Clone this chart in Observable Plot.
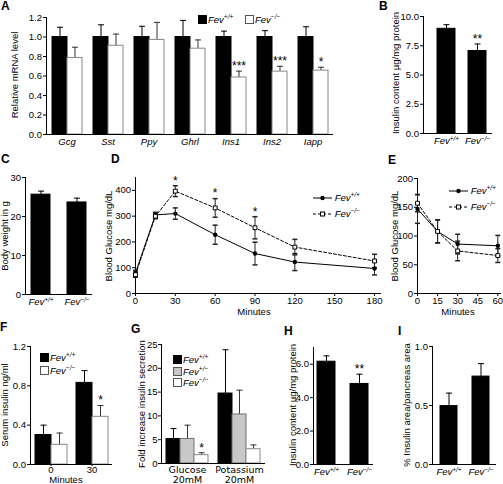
<!DOCTYPE html>
<html><head><meta charset="utf-8">
<script src="https://cdn.jsdelivr.net/npm/d3@7"></script>
<script src="https://cdn.jsdelivr.net/npm/@observablehq/plot@0.6"></script>
<style>
html,body{margin:0;padding:0;background:#fff;}
#fig{position:relative;width:503px;height:484px;overflow:hidden;font-family:"Liberation Sans",Arial,sans-serif;color:#000;}
#fig > svg{position:absolute;overflow:visible;}
.letter{position:absolute;font-weight:bold;font-size:12px;line-height:12px;}
.yt{position:absolute;font-size:9.5px;line-height:10px;white-space:nowrap;transform:translate(-50%,-50%) rotate(-90deg);}
.xt{position:absolute;font-size:9.5px;line-height:8px;white-space:nowrap;transform:translate(-50%,-50%);}
.leg{position:absolute;font-size:9.5px;line-height:10px;white-space:nowrap;font-style:italic;}
.sw{display:inline-block;width:9px;height:9px;box-sizing:border-box;border:1px solid #000;margin-right:1px;vertical-align:-1px;}
.leg sup{font-size:6.5px;line-height:0;vertical-align:4px;}
.leg svg{vertical-align:middle;overflow:visible;}
.gfont g[aria-label="fx-axis tick label"] text{font-family:"DejaVu Sans",sans-serif;font-size:9.5px;}
</style></head><body><div id="fig"></div>
<script>
// ---------------- DATA ----------------
const GENO = ["Fev+/+", "Fev-/-"];
const GENO3 = ["Fev+/+", "Fev+/-", "Fev-/-"];

// A: relative mRNA level
const genesA = ["Gcg", "Sst", "Ppy", "Ghrl", "Ins1", "Ins2", "Iapp"];
const wtA = [1, 1, 1, 1, 1, 1, 1];
const wtErrA = [0.10, 0.125, 0.11, 0.17, 0.06, 0.065, 0.105];
const koA = [0.785, 0.91, 0.97, 0.88, 0.585, 0.645, 0.655];
const koErrA = [0.11, 0.12, 0.18, 0.09, 0.065, 0.055, 0.035];
const sigA = ["", "", "", "", "***", "***", "*"];

// B: insulin content
const valB = [8.95, 7.05];
const errB = [0.35, 0.6];
const sigB = ["", "**"];

// C: body weight
const valC = [25.6, 23.6];
const errC = [0.9, 1.1];

// D: glucose tolerance
const tD = [0, 15, 30, 60, 90, 120, 180];
const wtD = [80, 305, 310, 228, 155, 122, 97];
const wtErrD = [10, 10, 22, 37, 44, 33, 25];
const koD = [73, 300, 397, 332, 255, 180, 126];
const koErrD = [10, 10, 21, 36, 43, 30, 26];
const sigD = ["", "", "*", "*", "*", "", ""];

// E: insulin tolerance
const tE = [0, 15, 30, 60];
const wtE = [147, 108, 86, 83];
const wtErrE = [25, 20, 17, 18];
const koE = [157, 108, 74, 66];
const koErrE = [15, 20, 17, 12];

// F: serum insulin
const minF = ["0", "30"];
const wtF = [0.30, 0.83];
const wtErrF = [0.10, 0.125];
const koF = [0.20, 0.485];
const koErrF = [0.12, 0.115];
const sigF = ["", "*"];

// G: fold increase insulin secretion
const stimG = ["Glucose\n20mM", "Potassium\n20mM"];
const wtG = [5.15, 14.7];
const wtErrG = [2.2, 9.2];
const hetG = [5.15, 10.3];
const hetErrG = [2.9, 5.1];
const koG = [1.75, 3.0];
const koErrG = [0.5, 0.9];
const sigG = ["*", ""];

// H: insulin content
const valH = [6.15, 4.82];
const errH = [0.35, 0.58];
const sigH = ["", "**"];

// I: insulin area
const valI = [0.495, 0.745];
const errI = [0.11, 0.11];

// ---------------- STYLE ----------------
const FILL = {"Fev+/+": "#000", "Fev+/-": "#c8c8c8", "Fev-/-": "#fff"};
const EDGE = {"Fev+/+": "#000", "Fev+/-": "#707070", "Fev-/-": "#888"};
const ERRC = {"Fev+/+": "#000", "Fev+/-": "#333", "Fev-/-": "#333"};
const SOLID = {"Fev+/+": "#000", "Fev-/-": "#000"};
const FONT = '"Liberation Sans", Arial, sans-serif';
const baseStyle = {fontFamily: FONT, fontSize: "9.5px", background: "none", overflow: "visible", color: "#000"};
const cap = {draw(ctx, size) { const w = Math.sqrt(size / Math.PI); ctx.moveTo(-w, 0); ctx.lineTo(w, 0); }};
const NS = "http://www.w3.org/2000/svg";
const fig = document.getElementById("fig");

function supify(svg) {
  svg.querySelectorAll("text").forEach(t => {
    if (t.children.length) return;
    const m = /^Fev(.+)$/.exec(t.textContent);
    if (!m) return;
    t.textContent = "Fev";
    const s = document.createElementNS(NS, "tspan");
    s.setAttribute("dy", "-3.5");
    s.setAttribute("font-size", "6.5");
    s.textContent = m[1].replace(/-/g, "\u2212");
    t.appendChild(s);
    t.setAttribute("font-style", "italic");
  });
}
function mount(svg, left, top, cls) {
  svg.style.left = left + "px";
  svg.style.top = top + "px";
  if (cls) svg.classList.add(cls);
  fig.appendChild(svg);
  supify(svg);
  return svg;
}
function barMarks(rows, fx, fill = FILL, edge = EDGE, errc = ERRC) {
  const o = fx ? {fx} : {};
  return [
    Plot.ruleX(rows, {...o, x: "geno", y1: "v", y2: d => d.v + d.e, stroke: d => errc[d.geno], strokeWidth: 1}),
    Plot.barY(rows, {...o, x: "geno", y: "v", fill: d => fill[d.geno], stroke: d => edge[d.geno], strokeWidth: 1, inset: 0}),
    Plot.dot(rows, {...o, x: "geno", y: d => d.v + d.e, symbol: cap, r: 3, stroke: d => errc[d.geno], fill: "none", strokeWidth: 1}),
    Plot.text(rows.filter(d => d.sig), {...o, x: "geno", y: d => d.v + d.e, text: "sig", dy: -5, fontSize: 12})
  ];
}
function simpleBars({vals, errs, sigs, left, top, width, height, mL, mT, mR, mB, yDomain, yTicks, yFormat, pi, po, align = 0.5}) {
  const rows = GENO.map((g, i) => ({geno: g, v: vals[i], e: errs[i], sig: sigs ? sigs[i] : ""}));
  const svg = Plot.plot({
    width, height, marginLeft: mL, marginTop: mT, marginRight: mR, marginBottom: mB,
    style: baseStyle, color: {type: "identity"},
    x: {domain: GENO, paddingInner: pi, paddingOuter: po, align, label: null, tickSize: 0, tickPadding: 4},
    y: {domain: yDomain, ticks: yTicks, tickFormat: yFormat, label: null, tickSize: 3, tickPadding: 1.5},
    marks: [Plot.frame({anchor: "left"}), ...barMarks(rows, undefined, SOLID, SOLID, SOLID), Plot.ruleY([0])]
  });
  mount(svg, left, top);
}

// ---------------- PANEL A ----------------
{
  const rows = genesA.flatMap((g, i) => [
    {gene: g, geno: GENO[0], v: wtA[i], e: wtErrA[i], sig: ""},
    {gene: g, geno: GENO[1], v: koA[i], e: koErrA[i], sig: sigA[i]}
  ]);
  const svg = Plot.plot({
    width: 340, height: 160, marginLeft: 43, marginTop: 17, marginRight: 4, marginBottom: 26,
    style: baseStyle, color: {type: "identity"},
    fx: {domain: genesA, paddingInner: 0, paddingOuter: 0, label: null, axis: "bottom", tickSize: 0, tickPadding: 4},
    x: {domain: GENO, paddingInner: 0, paddingOuter: 0.3, axis: null},
    y: {domain: [0, 1.2], ticks: [0, 0.2, 0.4, 0.6, 0.8, 1.0, 1.2], tickFormat: ".1f", label: null, tickSize: 3, tickPadding: 1.5},
    marks: [Plot.frame({anchor: "left", facetAnchor: "left"}), ...barMarks(rows, "gene"), Plot.ruleY([0])]
  });
  mount(svg, 0, 0);
  svg.querySelectorAll('g[aria-label="fx-axis tick label"] text').forEach(t => t.setAttribute("font-style", "italic"));
}

// ---------------- PANEL B ----------------
simpleBars({vals: valB, errs: errB, sigs: sigB, left: 380, top: 0, width: 123, height: 160, mL: 43, mT: 16, mR: 11, mB: 27,
  yDomain: [0, 10], yTicks: [0, 2.5, 5, 7.5, 10], yFormat: ".1f", pi: 0.41, po: 0.3, align: 0.7});

// ---------------- PANEL C ----------------
simpleBars({vals: valC, errs: errC, left: 0, top: 150, width: 100, height: 165, mL: 25, mT: 27, mR: 8, mB: 21,
  yDomain: [0, 30], yTicks: [0, 10, 20, 30], pi: 0.47, po: 0.165});

// ---------------- PANELS D, E ----------------
function linePanel({t, wt, wtErr, ko, koErr, sig, left, top, width, height, mL, mT, mR, mB, xDomain, xTicks, yDomain, yTicks}) {
  const W = t.map((x, i) => ({t: x, v: wt[i], e: wtErr[i], sig: ""}));
  const K = t.map((x, i) => ({t: x, v: ko[i], e: koErr[i], sig: sig ? sig[i] : ""}));
  const all = W.concat(K);
  const svg = Plot.plot({
    width, height, marginLeft: mL, marginTop: mT, marginRight: mR, marginBottom: mB,
    style: baseStyle,
    x: {domain: xDomain, ticks: xTicks, label: null, tickSize: 3, tickPadding: 0.5},
    y: {domain: yDomain, ticks: yTicks, label: null, tickSize: 3, tickPadding: 1.5},
    marks: [
      Plot.frame({anchor: "left"}), Plot.frame({anchor: "bottom"}),
      Plot.line(W, {x: "t", y: "v", stroke: "#000", strokeWidth: 1}),
      Plot.line(K, {x: "t", y: "v", stroke: "#000", strokeWidth: 1, strokeDasharray: "3,2"}),
      Plot.ruleX(all, {x: "t", y1: d => d.v - d.e, y2: d => d.v + d.e, stroke: "#222", strokeWidth: 1}),
      Plot.dot(all, {x: "t", y: d => d.v - d.e, symbol: cap, r: 2.5, stroke: "#222", fill: "none"}),
      Plot.dot(all, {x: "t", y: d => d.v + d.e, symbol: cap, r: 2.5, stroke: "#222", fill: "none"}),
      Plot.dot(W, {x: "t", y: "v", r: 2.2, fill: "#000", stroke: "none"}),
      Plot.dot(K, {x: "t", y: "v", symbol: "square", r: 2.2, fill: "#fff", stroke: "#000", strokeWidth: 1}),
      Plot.text(K.filter(d => d.sig), {x: "t", y: d => d.v + d.e, text: "sig", dy: -5, fontSize: 12})
    ]
  });
  mount(svg, left, top);
}
linePanel({t: tD, wt: wtD, wtErr: wtErrD, ko: koD, koErr: koErrD, sig: sigD, left: 100, top: 150, width: 285, height: 165,
  mL: 35, mT: 27, mR: 5, mB: 22, xDomain: [0, 184.5], xTicks: [0, 30, 60, 90, 120, 150, 180], yDomain: [0, 450], yTicks: [0, 100, 200, 300, 400]});
linePanel({t: tE, wt: wtE, wtErr: wtErrE, ko: koE, koErr: koErrE, left: 385, top: 150, width: 118, height: 165,
  mL: 32, mT: 28, mR: 3, mB: 22, xDomain: [0, 62], xTicks: [0, 15, 30, 45, 60], yDomain: [0, 200], yTicks: [0, 50, 100, 150, 200]});

// ---------------- PANEL F ----------------
{
  const rows = minF.flatMap((m, i) => [
    {grp: m, geno: GENO[0], v: wtF[i], e: wtErrF[i], sig: ""},
    {grp: m, geno: GENO[1], v: koF[i], e: koErrF[i], sig: sigF[i]}
  ]);
  const svg = Plot.plot({
    width: 115, height: 164, marginLeft: 30, marginTop: 26, marginRight: 3, marginBottom: 20,
    style: baseStyle, color: {type: "identity"},
    fx: {domain: minF, paddingInner: 0, paddingOuter: 0, label: null, axis: "bottom", tickSize: 2, tickPadding: 0},
    x: {domain: GENO, paddingInner: 0, paddingOuter: 0.28, axis: null},
    y: {domain: [0, 1.2], ticks: [0, 0.4, 0.8, 1.2], tickFormat: ".1f", label: null, tickSize: 3, tickPadding: 1.5},
    marks: [Plot.frame({anchor: "left", facetAnchor: "left"}), ...barMarks(rows, "grp"), Plot.ruleY([0])]
  });
  mount(svg, 0, 320);
}

// ---------------- PANEL G ----------------
{
  const vals = [wtG, hetG, koG], errs = [wtErrG, hetErrG, koErrG];
  const rows = stimG.flatMap((s, i) => GENO3.map((g, j) => ({grp: s, geno: g, v: vals[j][i], e: errs[j][i], sig: j === 2 ? sigG[i] : ""})));
  const svg = Plot.plot({
    width: 140, height: 164, marginLeft: 31, marginTop: 24, marginRight: 5, marginBottom: 21,
    style: baseStyle, color: {type: "identity"},
    fx: {domain: stimG, paddingInner: 0, paddingOuter: 0, label: null, axis: "bottom", tickSize: 0, tickPadding: 3},
    x: {domain: GENO3, paddingInner: 0, paddingOuter: 0.315, axis: null},
    y: {domain: [0, 25], ticks: [0, 5, 10, 15, 20, 25], label: null, tickSize: 3, tickPadding: 1},
    marks: [Plot.frame({anchor: "left", facetAnchor: "left"}), ...barMarks(rows, "grp"), Plot.ruleY([0])]
  });
  mount(svg, 130, 320, "gfont");
}

// ---------------- PANELS H, I ----------------
simpleBars({vals: valH, errs: errH, sigs: sigH, left: 285, top: 320, width: 95, height: 164, mL: 28, mT: 27, mR: 7, mB: 20,
  yDomain: [0, 7], yTicks: [0, 2, 4, 6], pi: 0.45, po: 0.12});
simpleBars({vals: valI, errs: errI, left: 395, top: 320, width: 108, height: 164, mL: 37, mT: 26, mR: 7, mB: 20,
  yDomain: [0, 1], yTicks: [0, 0.5, 1], yFormat: ".1f", pi: 0.47, po: 0.235});

// ---------------- TEXT ----------------
function addDiv(cls, html, left, top) {
  const d = document.createElement("div");
  d.className = cls; d.innerHTML = html;
  d.style.left = left + "px"; d.style.top = top + "px";
  fig.appendChild(d); return d;
}
[["A", 1, 0], ["B", 379, 0], ["C", 1, 153], ["D", 111, 153], ["E", 388, 154],
 ["F", 0, 321], ["G", 131, 323], ["H", 284, 325], ["I", 398, 325]].forEach(([l, x, y]) => addDiv("letter", l, x, y));

[["Relative mRNA level", 15, 75], ["Insulin content \u00b5g/mg protein", 396, 73], ["Body weight in g", 5, 236],
 ["Blood Glucose mg/dL", 109, 236], ["Blood Glucose mg/dL", 395, 236], ["Serum insulin ng/ml", 5, 405],
 ["Fold increase insulin secretion", 142, 404], ["Insulin content \u00b5g/mg protein", 293, 405],
 ["% Insulin area/pancreas area", 407, 405]].forEach(([s, x, y]) => addDiv("yt", s, x, y));

[["Minutes", 254, 312], ["Minutes", 458, 312], ["Minutes", 66, 480]].forEach(([s, x, y]) => addDiv("xt", s, x, y));

function fevHTML(g) { return `Fev<sup>${g.slice(3).replace(/-/g, "\u2212")}</sup>`; }
function sq(g) { return `<span class="sw" style="background:${FILL[g]};border-color:${g === "Fev+/+" ? "#000" : "#555"}"></span>`; }
// A legend (horizontal)
addDiv("leg", sq(GENO[0]) + fevHTML(GENO[0]), 198, 15);
addDiv("leg", sq(GENO[1]) + fevHTML(GENO[1]), 245, 15);
// F legend
GENO.forEach((g, i) => addDiv("leg", sq(g) + fevHTML(g), 40, 353 + i * 13));
// G legend
GENO3.forEach((g, i) => addDiv("leg", sq(g) + fevHTML(g), 173, 355 + i * 11.7));
// D, E line legends
function lineSample(i) {
  return `<svg width="19" height="8"><line x1="0" x2="19" y1="4" y2="4" stroke="#000" stroke-width="1" ${i ? 'stroke-dasharray="3,2"' : ''}/>` +
    (i ? '<rect x="7.5" y="2" width="4" height="4" fill="#fff" stroke="#000"/>' : '<circle cx="9.5" cy="4" r="2.2" fill="#000"/>') + `</svg>`;
}
GENO.forEach((g, i) => addDiv("leg", lineSample(i) + " " + fevHTML(g), 313, 193 + i * 16));
GENO.forEach((g, i) => addDiv("leg", lineSample(i) + " " + fevHTML(g), 449, 186 + i * 16));
</script></body></html>
